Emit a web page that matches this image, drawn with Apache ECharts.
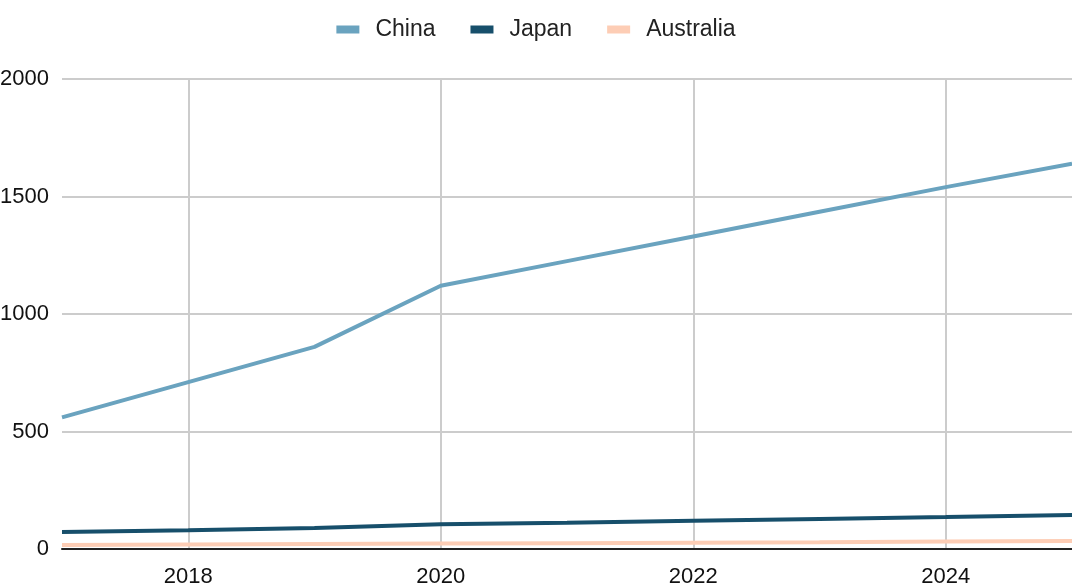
<!DOCTYPE html>
<html><head><meta charset="utf-8">
<script src="https://cdn.jsdelivr.net/npm/echarts@6/dist/echarts.min.js"></script>
<style>html,body{margin:0;padding:0;background:#fff}#c{width:1072px;height:584px}</style>
</head><body><div id="c"></div>
<script>
const years = ['2017','2018','2019','2020','2021','2022','2023','2024','2025'];
const china = [560, 710, 860, 1120, 1225, 1330, 1435, 1540, 1640];
const japan = [72, 80, 89, 105, 112, 120, 128, 136, 145];
const australia = [17, 19, 21, 23, 25, 27, 29, 32, 34];
const yTicks = [0, 500, 1000, 1500, 2000];

const chart = echarts.init(document.getElementById('c'));
const font = 'Liberation Sans, Arial, sans-serif';
const even = (i, v) => Number(v) % 2 === 0;
chart.setOption({
  animation: false,
  textStyle: {fontFamily: font},
  legend: {
    top: 13, left: 'center', itemWidth: 23, itemHeight: 8, itemGap: 35,
    icon: 'rect',
    textStyle: {fontSize: 23, color: '#222', fontFamily: font, padding: [0, 0, 0, 11]},
    data: ['China', 'Japan', 'Australia']
  },
  grid: {left: 62, right: 0, top: 79, bottom: 35, containLabel: false, outerBoundsMode: 'none'},
  xAxis: {
    type: 'category', data: years, boundaryGap: false,
    axisLine: {show: true, lineStyle: {color: '#222', width: 2}},
    axisTick: {show: false},
    axisLabel: {interval: even, fontSize: 22, color: '#111', margin: 17, fontFamily: font},
    splitLine: {show: true, interval: even, lineStyle: {color: '#ccc', width: 2}}
  },
  yAxis: {
    type: 'value', min: yTicks[0], max: yTicks[yTicks.length - 1], interval: 500,
    axisLine: {show: false}, axisTick: {show: false},
    axisLabel: {fontSize: 22, color: '#111', margin: 13, fontFamily: font, formatter: v => String(v)},
    splitLine: {show: true, lineStyle: {color: '#ccc', width: 2}}
  },
  series: [
    {name: 'China', type: 'line', data: china, symbol: 'none', lineStyle: {width: 4, color: '#6aa3bf'}, itemStyle: {color: '#6aa3bf'}},
    {name: 'Japan', type: 'line', data: japan, symbol: 'none', lineStyle: {width: 4, color: '#174f6b'}, itemStyle: {color: '#174f6b'}},
    {name: 'Australia', type: 'line', data: australia, symbol: 'none', lineStyle: {width: 4, color: '#fdcdb5'}, itemStyle: {color: '#fdcdb5'}}
  ]
});
</script></body></html>
